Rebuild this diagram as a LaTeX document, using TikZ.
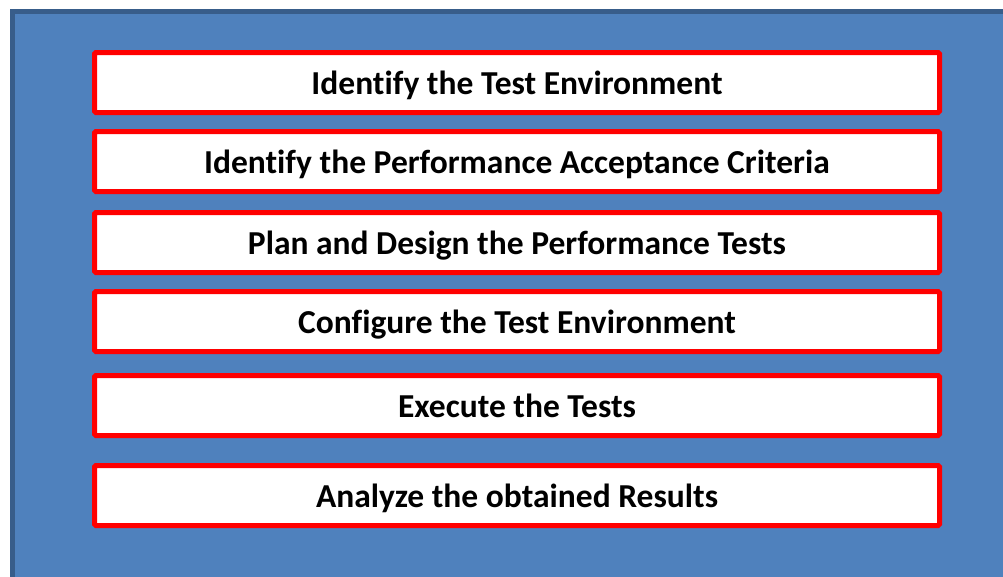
\documentclass[tikz,border=0pt]{standalone}
\usepackage{fontspec}
\setmainfont{Carlito}[Ligatures=NoCommon]
\usepackage{xcolor}
\usetikzlibrary{positioning}
\definecolor{panelblue}{HTML}{4F81BD}
\definecolor{paneledge}{HTML}{385D8A}

\begin{document}
\begin{tikzpicture}[
  x=1pt, y=-1pt,
  every node/.style={font=\fontsize{33.5}{40}\selectfont\bfseries},
  stepbox/.style={rectangle, rounded corners=1.5pt, draw=red, fill=white, line width=5pt,
                  minimum width=845pt, minimum height=60pt, align=center, text=black,
                  text height=23pt, text depth=0pt},
]
  \useasboundingbox (0,0) rectangle (1003,576);
  \clip (0,0) rectangle (1003,576);
  % Background panel
  \draw[paneledge, fill=panelblue, line width=5pt] (12.5,11.5) rectangle (1020,600);

  \node[stepbox] (env) at (517,82.5) {Identify the Test Environment};
  \node[stepbox, below=14pt of env]  (crit) {Identify the Performance Acceptance Criteria};
  \node[stepbox, below=16pt of crit] (plan) {Plan and Design the Performance Tests};
  \node[stepbox, below=14pt of plan] (conf) {Configure the Test Environment};
  \node[stepbox, below=19pt of conf] (exec) {Execute the Tests};
  \node[stepbox, below=25pt of exec] (anlz) {Analyze the obtained Results};
\end{tikzpicture}
\end{document}
